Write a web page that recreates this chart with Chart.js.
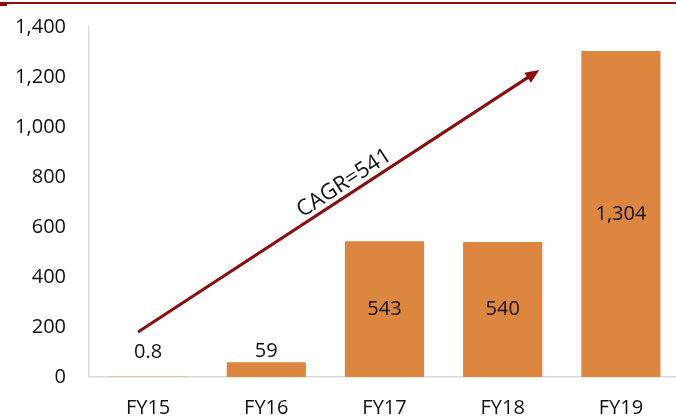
<!DOCTYPE html>
<html>
<head>
<meta charset="utf-8">
<script src="https://cdn.jsdelivr.net/npm/chart.js@4"></script>
<style>
  html, body { margin: 0; padding: 0; background: #fff; }
  #wrap { width: 676px; height: 419px; position: relative; overflow: hidden; }
  #c { position: absolute; left: 0; top: 0; }
</style>
</head>
<body>
<div id="wrap"><canvas id="c" width="680" height="419"></canvas></div>
<script>
const categories = ['FY15', 'FY16', 'FY17', 'FY18', 'FY19'];
const values = [0.8, 59, 543, 540, 1304];
const valueLabels = ['0.8', '59', '543', '540', '1,304'];
const yTicks = [0, 200, 400, 600, 800, 1000, 1200, 1400];
const cagrText = 'CAGR=541';
// arrow endpoints in data units: [category index, value]
const cagrFrom = [-0.085, 180];
const cagrTo = [3.31, 1228];

const FONT = '"Open Sans", sans-serif';
const BAR = '#DD8640';
const DARK_RED = '#8B0D0D';

const topRule = {
  id: 'topRule',
  afterDraw(chart) {
    const ctx = chart.ctx;
    ctx.save();
    ctx.fillStyle = DARK_RED;
    ctx.fillRect(0, 2, chart.width, 2);
    ctx.fillRect(0, 3, 7, 3);
    ctx.restore();
  }
};

const valueTags = {
  id: 'valueTags',
  afterDatasetsDraw(chart) {
    const ctx = chart.ctx;
    const meta = chart.getDatasetMeta(0);
    const y = chart.scales.y;
    ctx.save();
    ctx.font = '20px ' + FONT;
    ctx.fillStyle = '#111';
    ctx.textAlign = 'center';
    ctx.textBaseline = 'middle';
    meta.data.forEach((bar, i) => {
      const v = values[i];
      let ty;
      if (v < 200) {
        ty = Math.min(bar.y - 11, y.getPixelForValue(100));
      } else {
        ty = (bar.y + y.getPixelForValue(0)) / 2;
      }
      ctx.fillText(valueLabels[i], bar.x, ty);
    });
    ctx.restore();
  }
};

const cagrArrow = {
  id: 'cagrArrow',
  afterDatasetsDraw(chart) {
    const { x, y } = chart.scales;
    const ctx = chart.ctx;
    const x1 = x.getPixelForValue(cagrFrom[0]), y1 = y.getPixelForValue(cagrFrom[1]);
    const x2 = x.getPixelForValue(cagrTo[0]), y2 = y.getPixelForValue(cagrTo[1]);
    const ang = Math.atan2(y2 - y1, x2 - x1);
    const head = 14;
    ctx.save();
    ctx.strokeStyle = DARK_RED;
    ctx.fillStyle = DARK_RED;
    ctx.lineWidth = 3;
    ctx.beginPath();
    ctx.moveTo(x1, y1);
    ctx.lineTo(x2 - Math.cos(ang) * head * 0.8, y2 - Math.sin(ang) * head * 0.8);
    ctx.stroke();
    ctx.beginPath();
    ctx.moveTo(x2, y2);
    ctx.lineTo(x2 - head * Math.cos(ang) + 6 * Math.sin(ang), y2 - head * Math.sin(ang) - 6 * Math.cos(ang));
    ctx.lineTo(x2 - head * Math.cos(ang) - 6 * Math.sin(ang), y2 - head * Math.sin(ang) + 6 * Math.cos(ang));
    ctx.closePath();
    ctx.fill();
    // label along the arrow
    const t = 0.53;
    const mx = x1 + (x2 - x1) * t, my = y1 + (y2 - y1) * t;
    ctx.translate(mx, my);
    ctx.rotate(ang);
    ctx.font = '22px ' + FONT;
    ctx.fillStyle = '#111';
    ctx.textAlign = 'center';
    ctx.textBaseline = 'bottom';
    ctx.fillText(cagrText, 0, -1);
    ctx.restore();
  }
};

new Chart(document.getElementById('c'), {
  type: 'bar',
  data: {
    labels: categories,
    datasets: [{
      data: values,
      backgroundColor: BAR,
      borderWidth: 0,
      categoryPercentage: 1,
      barPercentage: 0.67
    }]
  },
  options: {
    responsive: false,
    animation: false,
    events: [],
    layout: { padding: { top: 27, right: 0, left: 0, bottom: 0 } },
    plugins: { legend: { display: false }, tooltip: { enabled: false } },
    scales: {
      x: {
        grid: { display: false, drawTicks: false },
        border: { color: '#D9D9D9', width: 1.5 },
        ticks: { color: '#111', font: { family: FONT, size: 20 }, padding: 19 },
        afterFit(axis) { axis.height = 42; }
      },
      y: {
        min: 0, max: 1400,
        afterBuildTicks(axis) { axis.ticks = yTicks.map(v => ({ value: v })); },
        grid: { display: false, drawTicks: false },
        border: { color: '#D9D9D9', width: 1.5 },
        ticks: {
          color: '#111', font: { family: FONT, size: 20 }, padding: 23,
          callback: v => v.toLocaleString('en-US')
        },
        afterFit(axis) { axis.width = 89; axis.paddingTop = 0; axis.paddingBottom = 0; }
      }
    }
  },
  plugins: [topRule, valueTags, cagrArrow]
});
</script>
</body>
</html>
